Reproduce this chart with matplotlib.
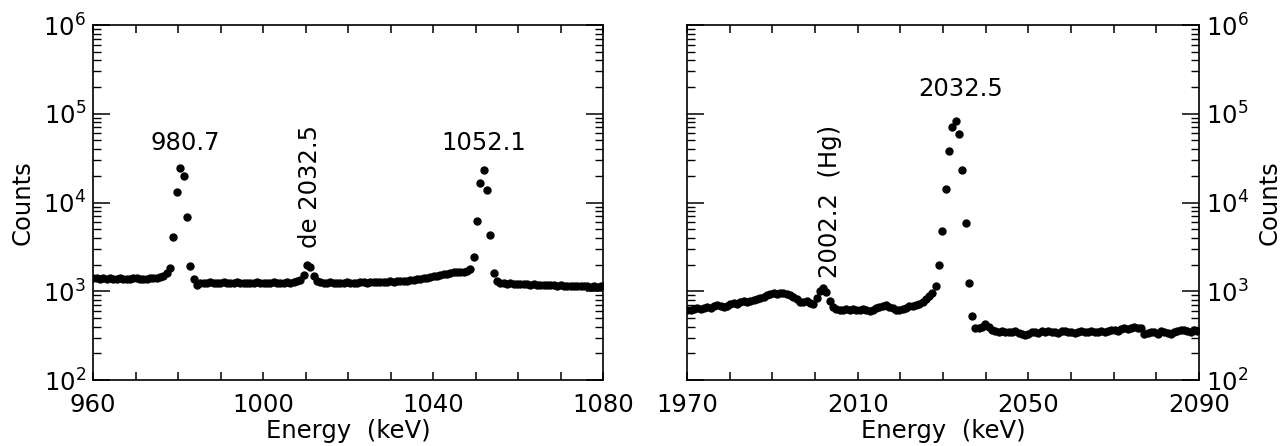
import numpy as np
import matplotlib
matplotlib.use("Agg")
import matplotlib.pyplot as plt
from matplotlib.ticker import LogLocator, FixedLocator, NullFormatter

# ---------------- data ----------------
# channel calibration (keV) : E = start + step * channel
left_start, left_step = 960.1, 0.785
right_start, right_step = 1970.1, 0.776

counts_left = [
    1400, 1420, 1390, 1410, 1380, 1400, 1370, 1390, 1410, 1380,
    1360, 1390, 1400, 1420, 1380, 1370, 1390, 1400, 1410, 1400,
    1430, 1500, 1600, 1840, 4050, 13100, 24700, 19900, 6800, 1950, 1380, 1180,
    1230, 1250, 1240, 1260, 1250, 1240, 1250, 1260, 1240, 1230,
    1250, 1260, 1250, 1240, 1250, 1230, 1240, 1260, 1250, 1250,
    1240, 1250, 1260, 1250, 1240, 1250, 1260, 1250, 1270, 1290,
    1340, 1520, 1990, 1900, 1500, 1320, 1260,
    1250, 1240, 1260, 1250, 1240, 1230, 1250, 1260, 1250, 1250,
    1240, 1260, 1260, 1250, 1270, 1260, 1260, 1270, 1280, 1270,
    1290, 1280, 1300, 1310, 1300, 1320, 1330,
    1350, 1360, 1390, 1400, 1420, 1450, 1470, 1500, 1520, 1550,
    1580, 1600, 1630, 1650, 1660, 1660, 1680, 1760,
    2420, 6200, 16500, 23000, 13900, 4250, 1625, 1320, 1250,
    1230, 1220, 1230, 1210, 1220, 1200, 1210, 1200, 1190, 1200,
    1190, 1180, 1190, 1170, 1180, 1170, 1160, 1180, 1160, 1150,
    1160, 1140, 1150, 1150, 1140, 1150, 1130, 1140, 1130, 1140,
]

counts_right = [
    620, 615, 630, 640, 635, 650, 660, 650, 680, 700,
    690, 670, 690, 720, 730, 720, 750, 770, 760, 780,
    800, 820, 840, 870, 900, 930, 950, 940, 960, 950,
    930, 900, 870, 820, 760, 750, 770, 730, 710, 830,
    1000, 1090, 990, 780, 660,
    630, 615, 610, 625, 620, 630, 620, 610, 630, 615,
    605, 620, 640, 660, 680, 700, 670, 640, 620, 615,
    630, 650, 680, 690, 700, 720,
    760, 810, 880, 950, 1140,
    1960, 4800, 14300, 38000, 71000, 82000, 58600, 23000, 5800, 1240, 530, 390,
    385, 395, 425, 400, 365, 355, 350, 360, 350, 345,
    350, 355, 340, 330, 320, 330, 345, 350, 340, 355,
    350, 360, 345, 350, 340, 355, 360, 350, 345, 335,
    350, 355, 345, 350, 360, 350, 345, 355, 350, 360,
    365, 370, 360, 380, 385, 375, 390, 395, 385, 390,
    330, 340, 350, 345, 330, 355, 350, 340, 330, 345,
    355, 365, 370, 360, 350, 365, 360,
]

left_xticks = [960, 1000, 1040, 1080]
right_xticks = [1970, 2010, 2050, 2090]

left_labels = [("980.7", 981.8, 4.7e4, 0), ("de 2032.5", 1011.0, 1.5e4, 90), ("1052.1", 1052.0, 4.7e4, 0)]
right_labels = [("2032.5", 2034.1, 1.9e5, 0), ("2002.2  (Hg)", 2003.4, 1.04e4, 90)]

# ---------------- plotting ----------------
plt.rcParams['font.family'] = ['DejaVu Sans']
FS = 17.5

energy_left = left_start + left_step * np.arange(len(counts_left))
energy_right = right_start + right_step * np.arange(len(counts_right))

W, H = 1284, 446
fig = plt.figure(figsize=(W / 100, H / 100), dpi=100)
ax1 = fig.add_axes([93 / W, 66 / H, 510 / W, 355 / H])
ax2 = fig.add_axes([687 / W, 66 / H, 512 / W, 355 / H])


def style(ax, xlim, xticks):
    ax.set_yscale('log')
    ax.set_ylim(1e2, 1e6)
    ax.set_xlim(*xlim)
    ax.set_xticks(xticks)
    ax.xaxis.set_minor_locator(FixedLocator(np.arange(xlim[0], xlim[1] + 1, 10)))
    ax.yaxis.set_major_locator(LogLocator(base=10, numticks=10))
    ax.yaxis.set_minor_locator(LogLocator(base=10, subs=np.arange(2, 10), numticks=20))
    ax.yaxis.set_minor_formatter(NullFormatter())
    for s in ax.spines.values():
        s.set_linewidth(1.2)
    ax.tick_params(axis='x', which='both', direction='in', top=True, bottom=True,
                   length=6, width=1.1, labelsize=FS, pad=9)
    ax.tick_params(axis='y', which='major', direction='in', left=True, right=True,
                   length=12, width=1.1, labelsize=FS, pad=5)
    ax.tick_params(axis='y', which='minor', direction='in', left=True, right=True,
                   length=6, width=1.0)
    ax.set_xlabel('Energy  (keV)', fontsize=FS, labelpad=2)


ax1.plot(energy_left, counts_left, 'o', color='black', ms=5, mec='black')
style(ax1, (960, 1080), left_xticks)
ax1.set_ylabel('Counts', fontsize=FS, labelpad=6)
for txt, x, y, rot in left_labels:
    ax1.text(x, y, txt, fontsize=FS, rotation=rot, ha='center', va='center')

ax2.plot(energy_right, counts_right, 'o', color='black', ms=5, mec='black')
style(ax2, (1970, 2090), right_xticks)
ax2.tick_params(axis='y', which='both', labelleft=False, labelright=True)
ax2.yaxis.set_label_position('right')
ax2.set_ylabel('Counts', fontsize=FS, labelpad=6)
for txt, x, y, rot in right_labels:
    ax2.text(x, y, txt, fontsize=FS, rotation=rot, ha='center', va='center')

fig.savefig('out.png', dpi=100, facecolor='white')
